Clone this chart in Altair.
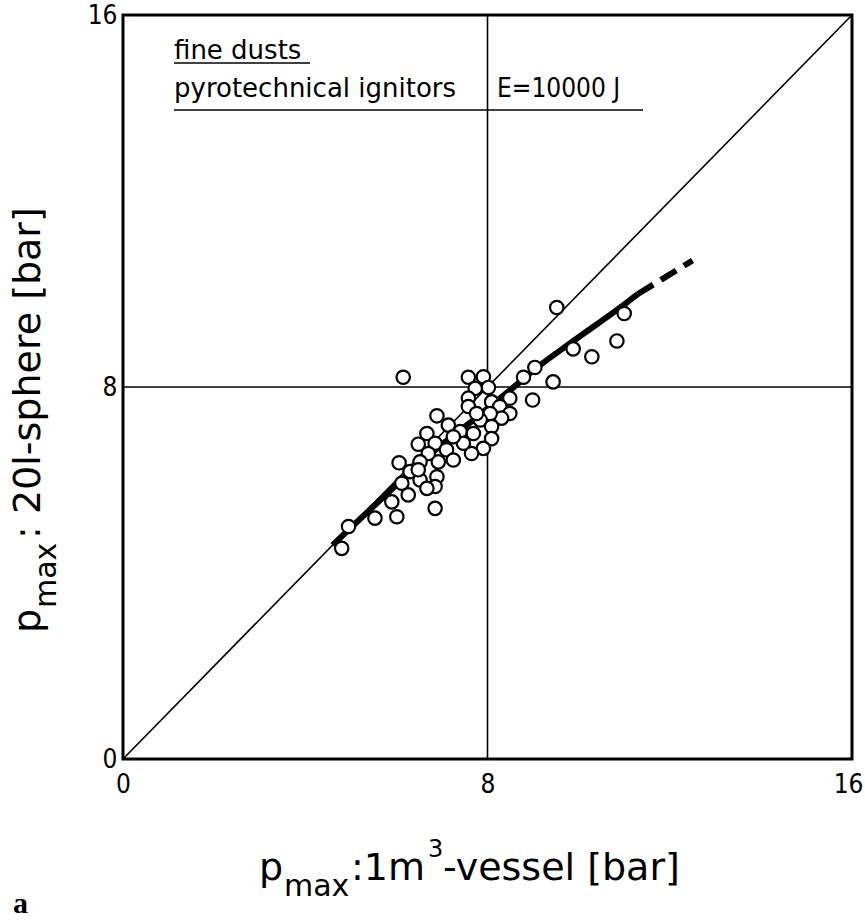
import altair as alt
import pandas as pd

# Measured maximum explosion pressures: 1 m3 vessel (x) vs 20-l sphere (y), bar
p_1m3 = [9.52, 11.0, 10.84, 10.29, 9.88, 9.04, 8.79, 9.44, 8.99,
         6.15, 7.58, 7.91, 8.02, 7.73, 7.58, 7.58, 8.09, 8.49, 8.27,
         8.49, 8.31, 8.06, 7.84, 6.89, 7.14, 7.40, 7.69, 8.09, 8.09,
         7.91, 7.65, 7.47, 6.67, 6.48, 6.85, 7.10, 7.25, 6.92, 6.70,
         6.52, 6.06, 6.30, 6.52, 6.12, 6.89, 6.85, 6.67, 6.26, 5.90,
         6.01, 6.85, 5.53, 4.95, 4.80, 7.76, 7.25, 6.48]
p_20l = [9.71, 9.58, 8.99, 8.65, 8.82, 8.42, 8.21, 8.11, 7.72,
         8.21, 8.21, 8.22, 7.99, 7.97, 7.76, 7.58, 7.68, 7.76, 7.58,
         7.43, 7.33, 7.43, 7.29, 7.38, 7.18, 7.04, 7.00, 7.15, 6.89,
         6.68, 6.57, 6.79, 7.00, 6.77, 6.79, 6.65, 6.43, 6.39, 6.57,
         6.39, 6.37, 6.18, 6.00, 5.93, 6.07, 5.86, 5.82, 5.68, 5.53,
         5.21, 5.39, 5.18, 5.00, 4.53, 7.43, 6.93, 6.22]

# Fitted correlation curve (solid part and extrapolated dashed part)
fit_x = [4.6, 5.9, 6.8, 7.7, 8.7, 9.0, 9.9, 10.9, 11.3]
fit_y = [4.6, 5.8, 6.6, 7.3, 8.1, 8.35, 9.0, 9.7, 10.0]
ext_x = [11.3, 12.5]
ext_y = [10.0, 10.72]

axis_values = [0, 8, 16]

W, H = 729, 744
TXT = "DejaVu Sans"
NUM = "Liberation Sans Narrow, DejaVu Sans Condensed, DejaVu Sans"

pts = pd.DataFrame({"x": p_1m3, "y": p_20l})
fit = pd.DataFrame({"x": fit_x, "y": fit_y})
ext = pd.DataFrame({"x": ext_x, "y": ext_y})
diag = pd.DataFrame({"x": [0, 16], "y": [0, 16]})

xs = alt.Scale(domain=[0, 16], nice=False, zero=False)
ys = alt.Scale(domain=[0, 16], nice=False, zero=False)

# the last x label is nudged left so it stays inside the canvas
x_axis = alt.Axis(values=axis_values, title=None, grid=False, ticks=False,
                  domain=False, labelFont=NUM, labelFontSize=26,
                  labelPadding=12, labelFlush=False, labelColor="black",
                  labelOffset={"condition": {"test": "datum.value == 16",
                                             "value": -4},
                               "value": 0})
y_axis = alt.Axis(values=axis_values, title=None, grid=False, ticks=False,
                  domain=False, labelFont=NUM, labelFontSize=26,
                  labelPadding=6, labelColor="black")

diag_line = alt.Chart(diag).mark_line(color="black", strokeWidth=1.6).encode(
    x=alt.X("x:Q", scale=xs, axis=x_axis),
    y=alt.Y("y:Q", scale=ys, axis=y_axis),
)

grid_v = alt.Chart().mark_rule(color="black", strokeWidth=1.6).encode(
    x=alt.datum(8, scale=xs)
)
grid_h = alt.Chart().mark_rule(color="black", strokeWidth=1.6).encode(
    y=alt.datum(8, scale=ys)
)

fit_line = alt.Chart(fit).mark_line(color="black", strokeWidth=6,
                                    interpolate="monotone").encode(
    x=alt.X("x:Q", scale=xs), y=alt.Y("y:Q", scale=ys)
)
ext_line = alt.Chart(ext).mark_line(color="black", strokeWidth=6,
                                    strokeDash=[18, 9], strokeCap="butt").encode(
    x=alt.X("x:Q", scale=xs), y=alt.Y("y:Q", scale=ys)
)

points = alt.Chart(pts).mark_point(shape="circle", filled=False, fill="white",
                                   fillOpacity=1, color="black", opacity=1,
                                   size=180, strokeWidth=2.2).encode(
    x=alt.X("x:Q", scale=xs), y=alt.Y("y:Q", scale=ys)
)


def label(text, x, y, size, font=TXT, angle=0, weight="normal"):
    return alt.Chart().mark_text(
        text=text, font=font, fontSize=size, fontWeight=weight, angle=angle,
        align="left", baseline="alphabetic", color="black",
    ).encode(x=alt.value(x), y=alt.value(y))


def underline(x1, x2, y):
    return alt.Chart().mark_rule(color="black", strokeWidth=1.6).encode(
        x=alt.value(x1), x2=alt.value(x2), y=alt.value(y)
    )


notes = [
    label("fine dusts", 51, 44, 26),
    underline(51, 187, 48),
    label("pyrotechnical ignitors", 51, 82, 26),
    label("E=10000 J", 374, 82, 26, font=NUM),
    underline(51, 520, 95),
]

# x axis title: p_max : 1 m^3 - vessel [bar]
x_title = [
    label("p", 136, 865, 38),
    label("max", 161, 881, 30),
    label(":1m", 228, 865, 38),
    label("3", 305, 842, 24),
    label("-vessel  [bar]", 320, 865, 38),
]

# y axis title: p_max : 20l-sphere [bar], reading upward
y_title = [
    label("p", -83, 618, 38, angle=270),
    label("max", -67, 593, 30, angle=270),
    label(": 20l-sphere  [bar]", -83, 524, 38, angle=270),
]

panel = [label("a", -110, 898, 30, font="Liberation Serif", weight="bold")]

chart = alt.layer(
    diag_line, grid_v, grid_h, fit_line, ext_line, points,
    *notes, *x_title, *y_title, *panel
).properties(
    width=W, height=H,
    autosize=alt.AutoSizeParams(type="none"),
    padding={"left": 123, "top": 15, "right": 13, "bottom": 164},
    background="white",
).configure_view(stroke="black", strokeWidth=3)

chart.save("out.html", embed_options={"renderer": "svg", "actions": False})
